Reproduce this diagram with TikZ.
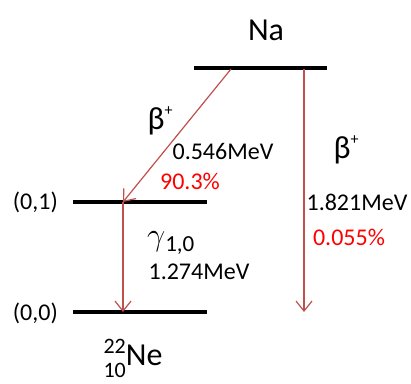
\documentclass[tikz,border=0pt]{standalone}
\usepackage{fontspec}
\setmainfont{Carlito}
\usetikzlibrary{arrows.meta,positioning}
\definecolor{decayred}{RGB}{192,80,77}
\definecolor{ratiored}{RGB}{255,0,0}

\begin{document}
\begin{tikzpicture}[x=1pt, y=-1pt,
    level/.style={line width=3.6pt, black},
    trans/.style={-{Straight Barb[length=10pt,width=16pt]}, decayred, line width=1.2pt},
    lbl/.style={inner sep=0pt, font=\fontsize{24}{26}\selectfont},
    big/.style={inner sep=0pt, font=\fontsize{32}{34}\selectfont},
    frac/.style={lbl, text=ratiored}
]
\useasboundingbox (0,0) rectangle (411,383);

% energy levels
\coordinate (naL) at (194,68);
\coordinate (naR) at (327,68);
\coordinate (exL) at (73,202);
\coordinate (exR) at (207,202);
\coordinate (gsL) at (73,312);
\coordinate (gsR) at (207,312);
\draw[level] (naL) -- (naR);
\draw[level] (exL) -- (exR);
\draw[level] (gsL) -- (gsR);

% transition end points
\coordinate (naA) at (231,69);
\coordinate (naB) at (304,69);
\coordinate (exA) at (123,202);
\coordinate (gsA) at (123,312);
\coordinate (gsB) at (304,312);

\draw[trans] (naA) -- (exA);
\draw[trans] (exA) -- (gsA);
\draw[trans] (naB) -- (gsB);

% labels
\node[big] (na) at (266,30) {Na};
\node[lbl, anchor=east] (ex) at (58,202) {(0,1)};
\node[lbl, anchor=east] (gs) at (58,313) {(0,0)};
\node[big] (betaA) at (160,121) {β\raisebox{14pt}{\fontsize{16}{16}\selectfont +}};
\node[lbl] (enA) at (223,151) {0.546MeV};
\node[frac] (brA) at (190,181) {90.3\%};
\node[big] (betaB) at (346,150) {β\raisebox{14pt}{\fontsize{16}{16}\selectfont +}};
\node[lbl] (enB) at (357,202) {1.821MeV};
\node[frac] (brB) at (349,237) {0.055\%};
\node[big] (gam) at (171,243) {\scalebox{1.3}{$\gamma$}\textsubscript{\fontsize{23}{25}\selectfont 1,0}};
\node[lbl] (enG) at (199,272) {1.274MeV};
\node[big] (ne) at (133,358) {\raisebox{12pt}{\fontsize{22}{22}\selectfont 22}\llap{\raisebox{-12pt}{\fontsize{22}{22}\selectfont 10}}Ne};
\end{tikzpicture}
\end{document}
